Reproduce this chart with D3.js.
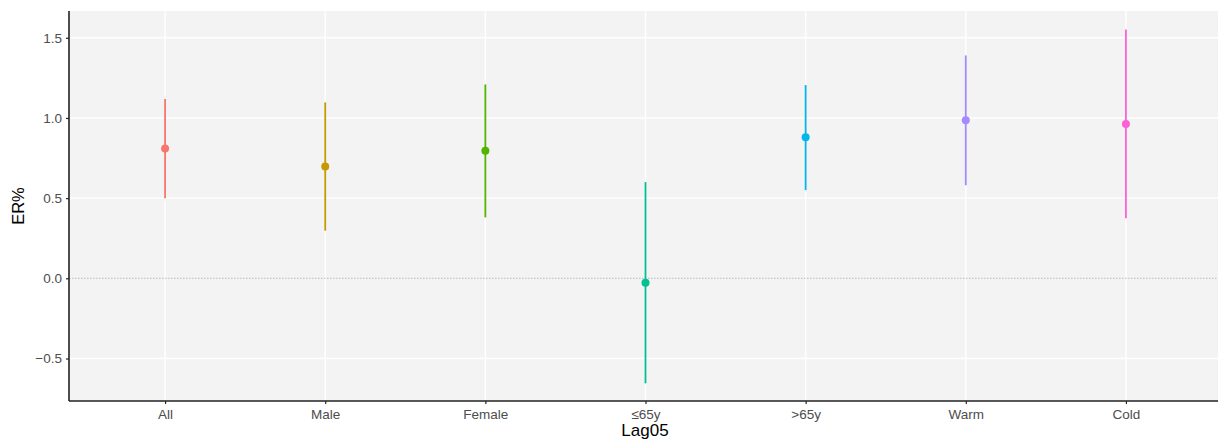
<!DOCTYPE html>
<html>
<head>
<meta charset="utf-8">
<script src="https://cdn.jsdelivr.net/npm/d3@7"></script>
<style>
  html, body { margin: 0; padding: 0; background: #fff; }
  svg { display: block; }
  text { font-family: "Liberation Sans", Arial, sans-serif; }
</style>
</head>
<body>
<svg id="chart" width="1218" height="444"></svg>
<script>
const categories = ["All", "Male", "Female", "\u226465y", ">65y", "Warm", "Cold"];
const estimates  = [0.810, 0.698, 0.796, -0.027, 0.879, 0.985, 0.962];
const lowerCI    = [0.499, 0.297, 0.380, -0.655, 0.550, 0.580, 0.374];
const upperCI    = [1.118, 1.097, 1.209, 0.600, 1.205, 1.390, 1.552];
const colors     = ["#F8766D", "#C49A00", "#53B400", "#00C094", "#00B6EB", "#A58AFF", "#FB61D7"];
const yTicks     = [-0.5, 0.0, 0.5, 1.0, 1.5];
const xTitle = "Lag05";
const yTitle = "ER%";

const W = 1218, H = 444;
const mLeft = 69, mTop = 11, mBottom = 401, mRight = 1222;

const svg = d3.select("#chart");

const x = d3.scalePoint().domain(categories).range([mLeft, mRight]).padding(0.6);
const y = d3.scaleLinear().domain([-0.765, 1.667]).range([mBottom, mTop]);

// panel background
svg.append("rect").attr("x", mLeft).attr("y", mTop)
  .attr("width", W - mLeft).attr("height", mBottom - mTop).attr("fill", "#F3F3F3");

// grid
const g = svg.append("g");
g.selectAll("line.hy").data(yTicks.filter(d => d !== 0)).join("line")
  .attr("x1", mLeft).attr("x2", W).attr("y1", d => y(d)).attr("y2", d => y(d))
  .attr("stroke", "#fff").attr("stroke-width", 1.4);
g.selectAll("line.vx").data(categories).join("line")
  .attr("x1", d => x(d)).attr("x2", d => x(d)).attr("y1", mTop).attr("y2", mBottom)
  .attr("stroke", "#fff").attr("stroke-width", 1.4);

// zero reference line
svg.append("line").attr("x1", mLeft).attr("x2", W).attr("y1", y(0)).attr("y2", y(0))
  .attr("stroke", "#aaaaaa").attr("stroke-width", 0.8).attr("stroke-dasharray", "1.5,1.5");

// error bars
const data = categories.map((c, i) => ({c, est: estimates[i], lo: lowerCI[i], hi: upperCI[i], col: colors[i]}));
svg.selectAll("line.err").data(data).join("line")
  .attr("x1", d => x(d.c)).attr("x2", d => x(d.c))
  .attr("y1", d => y(d.lo)).attr("y2", d => y(d.hi))
  .attr("stroke", d => d.col).attr("stroke-width", 1.8);
svg.selectAll("circle.pt").data(data).join("circle")
  .attr("cx", d => x(d.c)).attr("cy", d => y(d.est)).attr("r", 4)
  .attr("fill", d => d.col);

// axes
const xAxis = svg.append("g").attr("transform", `translate(0,${mBottom})`)
  .call(d3.axisBottom(x).tickSize(3).tickPadding(5));
const yAxis = svg.append("g").attr("transform", `translate(${mLeft},0)`)
  .call(d3.axisLeft(y).tickValues(yTicks).tickFormat(d3.format(".1f")).tickSize(3).tickPadding(4));

[xAxis, yAxis].forEach(a => {
  a.select(".domain").attr("stroke", "#222").attr("stroke-width", 1.6);
  a.selectAll(".tick line").attr("stroke", "#222").attr("stroke-width", 1.2);
  a.selectAll(".tick text").attr("fill", "#4D4D4D").attr("font-size", 13.5)
    .attr("font-family", "'Liberation Sans', Arial, sans-serif");
});
yAxis.selectAll(".tick text").text(d => d < 0 ? "\u2212" + Math.abs(d).toFixed(1) : d.toFixed(1));
xAxis.select(".domain").attr("d", `M${mLeft},0H${W}`);
yAxis.select(".domain").attr("d", `M0,${mTop}V${mBottom}`);

// titles
svg.append("text").attr("x", 645).attr("y", 436)
  .attr("text-anchor", "middle").attr("font-size", 17).attr("fill", "#000").text(xTitle);
svg.append("text").attr("transform", `translate(24,${(mTop + mBottom) / 2}) rotate(-90)`)
  .attr("text-anchor", "middle").attr("font-size", 16.5).attr("fill", "#000").text(yTitle);
</script>
</body>
</html>
